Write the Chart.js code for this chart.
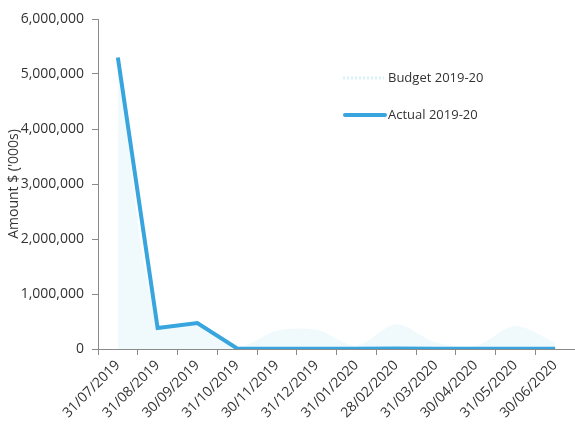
<!DOCTYPE html>
<html>
<head>
<meta charset="utf-8">
<script src="https://cdn.jsdelivr.net/npm/chart.js@4"></script>
<style>
  html, body { margin: 0; padding: 0; background: #fff; }
  #wrap { width: 575px; height: 431px; position: relative; }
</style>
</head>
<body>
<div id="wrap"><canvas id="c"></canvas></div>
<script>
const months = ['31/07/2019', '31/08/2019', '30/09/2019', '31/10/2019', '30/11/2019', '31/12/2019',
  '31/01/2020', '28/02/2020', '31/03/2020', '30/04/2020', '31/05/2020', '30/06/2020'];
const budget = [5300000, 430000, 460000, 40000, 330000, 350000, 60000, 450000, 120000, 60000, 420000, 120000];
const actual = [5300000, 382000, 473000, 10000, 5000, 5000, 5000, 8000, 5000, 5000, 5000, 5000];
const yTicks = [0, 1000000, 2000000, 3000000, 4000000, 5000000, 6000000];

const LINE_BLUE = '#39a5de';
const BUDGET_FILL = 'rgba(200,236,246,0.28)';
const AXIS_GREY = '#8a8a8a';
const TEXT = '#333333';
const FONT = "'Open Sans', sans-serif";

// legend drawn inside the plot, to the right
const legendPlugin = {
  id: 'insideLegend',
  afterDraw(chart) {
    const ctx = chart.ctx;
    ctx.save();
    ctx.font = '13px ' + FONT;
    ctx.fillStyle = TEXT;
    ctx.textBaseline = 'middle';
    // budget swatch: faint dotted line
    ctx.strokeStyle = 'rgba(200,236,246,0.7)';
    ctx.lineWidth = 3;
    ctx.setLineDash([2, 2]);
    ctx.beginPath(); ctx.moveTo(343, 78); ctx.lineTo(384, 78); ctx.stroke();
    ctx.fillText('Budget 2019-20', 388, 78);
    // actual swatch
    ctx.setLineDash([]);
    ctx.strokeStyle = LINE_BLUE;
    ctx.lineWidth = 4;
    ctx.lineCap = 'round';
    ctx.beginPath(); ctx.moveTo(345, 115); ctx.lineTo(385, 115); ctx.stroke();
    ctx.fillText('Actual 2019-20', 388, 115);
    ctx.restore();
  }
};

new Chart(document.getElementById('c'), {
  type: 'line',
  data: {
    labels: months,
    datasets: [
      { label: 'Actual 2019-20', data: actual, borderColor: LINE_BLUE, borderWidth: 4,
        pointRadius: 0, tension: 0, fill: false, borderJoinStyle: 'miter' },
      { label: 'Budget 2019-20', data: budget, borderColor: 'rgba(0,0,0,0)', borderWidth: 0,
        backgroundColor: BUDGET_FILL, pointRadius: 0, tension: 0.3, fill: 'origin' }
    ]
  },
  options: {
    responsive: true,
    maintainAspectRatio: false,
    animation: false,
    layout: { padding: { top: 19, right: 0, left: 0, bottom: 0 } },
    plugins: { legend: { display: false }, tooltip: { enabled: false } },
    scales: {
      x: {
        offset: true,
        grid: { offset: true, drawOnChartArea: false, color: AXIS_GREY, tickLength: 6 },
        border: { color: AXIS_GREY },
        ticks: { color: TEXT, font: { family: FONT, size: 14 }, minRotation: 45, maxRotation: 45, padding: 2, autoSkip: false },
        afterFit(scale) { scale.height = 82; }
      },
      y: {
        min: 0, max: 6000000,
        afterBuildTicks(scale) { scale.ticks = yTicks.map(v => ({ value: v })); },
        grid: { drawOnChartArea: false, color: AXIS_GREY, tickLength: 6 },
        border: { color: AXIS_GREY },
        ticks: { color: TEXT, font: { family: FONT, size: 14 }, padding: 8,
          callback: v => v.toLocaleString('en-US') },
        title: { display: true, text: "Amount $ ('000s)", color: TEXT, font: { family: FONT, size: 14 }, padding: { top: 6, bottom: 0 } },
        afterFit(scale) { scale.width = 98; }
      }
    }
  },
  plugins: [legendPlugin]
});
</script>
</body>
</html>
